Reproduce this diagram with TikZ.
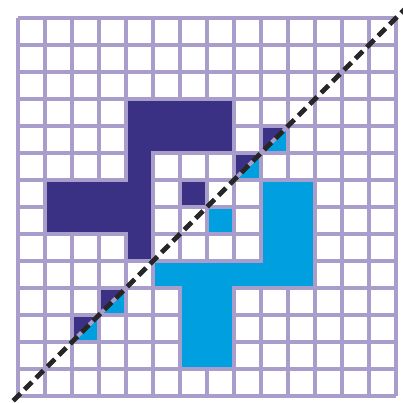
\documentclass[tikz,border=0pt]{standalone}
\usepackage{tikz}
\usepackage{xcolor}
\definecolor{GridLilac}{HTML}{A99DCC}
\definecolor{DeepIndigo}{HTML}{3A3185}
\definecolor{SkyCyan}{HTML}{00A0E0}
\definecolor{DashGrey}{HTML}{262626}

\begin{document}
\begin{tikzpicture}[x=1cm, y=1cm,
  gridline/.style={GridLilac, line width=3.8pt},
  upper/.style={fill=DeepIndigo, draw=GridLilac, line width=3.8pt, line join=miter},
  lower/.style={fill=SkyCyan, draw=GridLilac, line width=3.8pt, line join=miter},
  mirror/.style={DashGrey, line width=5pt, dash pattern=on 11pt off 6pt}]
\useasboundingbox (-0.667,-0.259) rectangle (14.259,14.667);
\clip (-0.667,-0.259) rectangle (14.259,14.667);
% grid
\draw[gridline] (0,0) grid (14,14);
% upper shape and its mirror image
\draw[upper] (4,11) -- (8,11) -- (8,9) -- (5,9) -- (5,5) -- (4,5) -- (4,6) -- (1,6) -- (1,8) -- (4,8) -- cycle;
\draw[upper] (6,7) rectangle (7,8);
\draw[lower] (9,8) -- (11,8) -- (11,4) -- (8,4) -- (8,1) -- (6,1) -- (6,4) -- (5,4) -- (5,5) -- (9,5) -- cycle;
\draw[lower] (7,6) rectangle (8,7);
% split cells on the axis
\foreach \k in {2,3,8,9} {
  \draw[upper] (\k,\k) -- (\k,\k+1) -- (\k+1,\k+1) -- cycle;
  \draw[lower] (\k,\k) -- (\k+1,\k) -- (\k+1,\k+1) -- cycle;
}
% axis
\coordinate (axisA) at (-0.6,-0.6);
\coordinate (axisB) at (14.6,14.6);
\draw[mirror] (axisA) -- (axisB);
\end{tikzpicture}
\end{document}
